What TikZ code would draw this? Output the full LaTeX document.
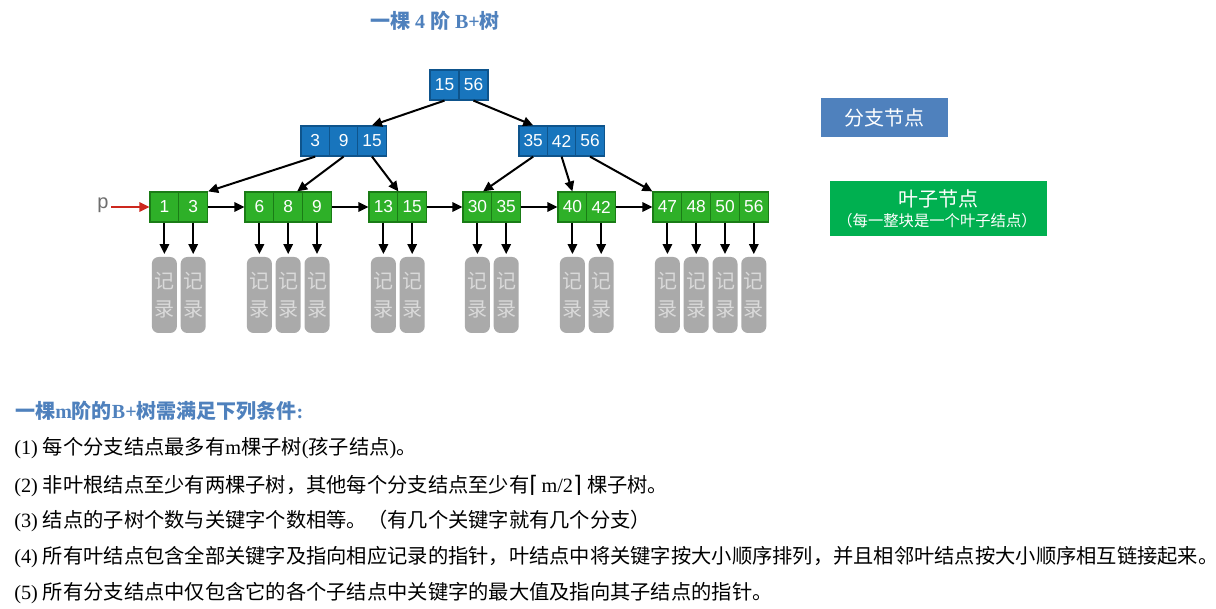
\documentclass[tikz,border=0pt]{standalone}
\usepackage{fontspec}
\setmainfont{Liberation Serif}
\newfontfamily\cjk{Noto Sans CJK SC}
\newfontfamily\symfont{DejaVu Sans}
\newfontfamily\keyfont{Liberation Sans}
\usetikzlibrary{arrows.meta,calc}

\definecolor{branchfill}{RGB}{24,117,189}
\definecolor{branchline}{RGB}{14,84,140}
\definecolor{leaffill}{RGB}{46,176,40}
\definecolor{leafline}{RGB}{26,124,22}
\definecolor{recfill}{RGB}{170,170,170}
\definecolor{rectext}{RGB}{218,218,218}
\definecolor{headblue}{RGB}{79,129,189}
\definecolor{legblue}{RGB}{79,129,189}
\definecolor{leggreen}{RGB}{0,176,80}
\definecolor{pred}{RGB}{205,40,30}
\definecolor{pgray}{RGB}{110,110,110}

\begin{document}
\begin{tikzpicture}[x=0.75pt,y=-0.75pt,
  cell/.style={draw, line width=0.9pt, minimum height=22.5pt, inner sep=0pt,
    text=white, font=\keyfont\fontsize{13}{14}\selectfont},
  rcell/.style={cell, fill=branchfill, draw=branchline, minimum width=21.75pt},
  bcell/.style={cell, fill=branchfill, draw=branchline, minimum width=21.3pt},
  lcell/.style={cell, fill=leaffill, draw=leafline, minimum width=21.6pt},
  rec/.style={fill=recfill, rounded corners=5pt, minimum width=18.75pt,
    minimum height=57pt, inner sep=0pt, text=rectext, align=center,
    font=\cjk\fontsize{15}{21}\selectfont},
  arr/.style={line width=1.5pt, -{Triangle[length=7.5pt,width=7pt]}},
  legend/.style={inner sep=0pt, text=white, align=center},
  body/.style={anchor=west, inner sep=0pt, font=\fontsize{15.2}{18}\selectfont},
]
\useasboundingbox (0,0) rectangle (1216,609);
\fill[white] (0,0) rectangle (1216,609);

% title
\node[inner sep=0pt, text=headblue, font=\bfseries\fontsize{15}{18}\selectfont]
  (title) at (435,21) {{\cjk\bfseries 一棵} 4 {\cjk\bfseries 阶} B+{\cjk\bfseries 树}};

% root
\node[rcell] (r1) at (444.5,85) {15};
\node[rcell] (r2) at (473.5,85) {56};

% branch level
\node[bcell] (L1) at (315.2,141) {3};
\node[bcell] (L2) at (343.6,141) {9};
\node[bcell] (L3) at (372.0,141) {15};
\node[bcell] (R1) at (533.2,141) {35};
\node[bcell] (R2) at (561.6,141) {42};
\node[bcell] (R3) at (590.0,141) {56};

% leaves
\node[lcell] (a1) at (164.4,207) {1};
\node[lcell] (a2) at (193.2,207) {3};
\node[lcell] (b1) at (259.4,207) {6};
\node[lcell] (b2) at (288.2,207) {8};
\node[lcell] (b3) at (317.0,207) {9};
\node[lcell] (c1) at (383.4,207) {13};
\node[lcell] (c2) at (412.2,207) {15};
\node[lcell] (d1) at (477.4,207) {30};
\node[lcell] (d2) at (506.2,207) {35};
\node[lcell] (e1) at (572.4,207) {40};
\node[lcell] (e2) at (601.2,207) {42};
\node[lcell] (f1) at (667.4,207) {47};
\node[lcell] (f2) at (696.2,207) {48};
\node[lcell] (f3) at (725.0,207) {50};
\node[lcell] (f4) at (753.8,207) {56};

% records under every key
\coordinate (recrow) at (0,295);
\foreach \c in {a1,a2,b1,b2,b3,c1,c2,d1,d2,e1,e2,f1,f2,f3,f4} {
  \node[rec] (rec-\c) at (\c |- recrow) {记\\录};
  \draw[arr, shorten >=2pt] (\c.south) -- (rec-\c.north);
}

% tree pointers
\draw[arr] (r1.south) -- (L3.north);
\draw[arr] (r2.south) -- (R1.north);
\draw[arr] (L1.south) -- (a2.north east);
\draw[arr] (L2.south) -- (b2.60);
\draw[arr] (L3.south) -- (c1.north east);
\draw[arr] (R1.south) -- (d1.70);
\draw[arr] (R2.south) -- (e1.north);
\draw[arr] (R3.south) -- (f1.north west);

% leaf chain
\draw[arr] (a2.east) -- (b1.west);
\draw[arr] (b3.east) -- (c1.west);
\draw[arr] (c2.east) -- (d1.west);
\draw[arr] (d2.east) -- (e1.west);
\draw[arr] (e2.east) -- (f1.west);

% head pointer p
\node[inner sep=0pt, text=pgray, font=\keyfont\fontsize{15}{16}\selectfont] (p) at (103,205) {p};
\coordinate (pstart) at (111,207);
\draw[line width=1.5pt, pred, -{Triangle[length=7.5pt,width=7pt]}] (pstart) -- (a1.west);

% legend
\node[legend, fill=legblue, minimum width=95.25pt, minimum height=29.25pt,
  font=\cjk\fontsize{15}{18}\selectfont] (lgb) at (884.5,117.5) {分支节点};
\node[legend, fill=leggreen, minimum width=162.75pt, minimum height=41.25pt] (lgl) at (938.5,208.5) {};
\node[inner sep=0pt, text=white, font=\cjk\fontsize{15}{18}\selectfont] (lgl1) at (938.5,199) {叶子节点};
\node[inner sep=0pt, text=white, font=\cjk\fontsize{11.5}{13}\selectfont] (lgl2) at (937,221) {（每一整块是一个叶子结点）};

% conditions
\node[body, text=headblue, font=\bfseries\fontsize{15}{18}\selectfont] (hd) at (15,411)
  {{\cjk\bfseries 一棵}m{\cjk\bfseries 阶的}B+{\cjk\bfseries 树需满足下列条件}:};
\node[body] (c1t) at (14,448)
  {(1) {\cjk 每个分支结点最多有}m{\cjk 棵子树}({\cjk 孩子结点}){\cjk 。}};
\node[body] (c2t) at (14,486)
  {(2) {\cjk 非叶根结点至少有两棵子树，其他每个分支结点至少有}{\symfont\fontsize{17}{18}\selectfont ⌈}\,m/2{\symfont\fontsize{17}{18}\selectfont ⌉} {\cjk 棵子树。}};
\node[body] (c3t) at (14,521)
  {(3) {\cjk 结点的子树个数与关键字个数相等。（有几个关键字就有几个分支）}};
\node[body] (c4t) at (14,557)
  {(4) {\cjk 所有叶结点包含全部关键字及指向相应记录的指针，叶结点中将关键字按大小顺序排列，并且相邻叶结点按大小顺序相互链接起来。}};
\node[body] (c5t) at (14,593)
  {(5) {\cjk 所有分支结点中仅包含它的各个子结点中关键字的最大值及指向其子结点的指针。}};
\end{tikzpicture}
\end{document}
